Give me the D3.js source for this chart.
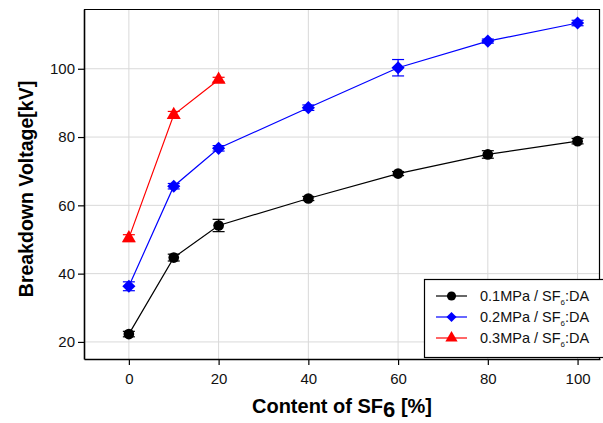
<!DOCTYPE html>
<html>
<head>
<meta charset="utf-8">
<script src="https://cdn.jsdelivr.net/npm/d3@7"></script>
<style>
  body { margin: 0; background: #fff; }
  text { font-family: Arial, "Liberation Sans", sans-serif; }
</style>
</head>
<body>
<svg id="chart" width="603" height="423"></svg>
<script>
const xTicks = [0, 20, 40, 60, 80, 100];
const yTicks = [20, 40, 60, 80, 100];

const content01 = [0, 10, 20, 40, 60, 80, 100];
const volt01 = [22.3, 44.7, 54.1, 62.0, 69.3, 74.9, 78.8];
const err01 = [0.8, 1.0, 1.8, 0.6, 0.6, 1.1, 0.8];

const content02 = [0, 10, 20, 40, 60, 80, 100];
const volt02 = [36.3, 65.6, 76.7, 88.6, 100.3, 108.1, 113.4];
const err02 = [1.3, 0.8, 0.8, 0.8, 2.4, 0.6, 0.8];

const content03 = [0, 10, 20];
const volt03 = [50.4, 86.5, 96.8];
const err03 = [1.0, 1.0, 0.7];

const seriesNames = ["0.1MPa / SF", "0.2MPa / SF", "0.3MPa / SF"];

const series = [
  { name: seriesNames[0], color: "#000000", symbol: d3.symbolCircle, size: 90, x: content01, y: volt01, e: err01 },
  { name: seriesNames[1], color: "#0000ff", symbol: d3.symbolDiamond2, size: 110, x: content02, y: volt02, e: err02 },
  { name: seriesNames[2], color: "#ff0000", symbol: d3.symbolTriangle, size: 85, x: content03, y: volt03, e: err03 }
];

const svg = d3.select("#chart");
const margin = { top: 9, right: 3, bottom: 64, left: 84 };
const width = 603 - margin.left - margin.right;
const height = 423 - margin.top - margin.bottom;

const x = d3.scaleLinear().domain([-10, 105]).range([0, width]);
const y = d3.scaleLinear().domain([15, 117.5]).range([height, 0]);

const g = svg.append("g").attr("transform", "translate(" + margin.left + "," + margin.top + ")");

// grid
g.append("g").selectAll("line").data(xTicks).join("line")
    .attr("x1", d => x(d)).attr("x2", d => x(d))
    .attr("y1", 0).attr("y2", height)
    .attr("stroke", "#d9d9d9").attr("stroke-width", 1);
g.append("g").selectAll("line").data(yTicks).join("line")
    .attr("x1", 0).attr("x2", width)
    .attr("y1", d => y(d)).attr("y2", d => y(d))
    .attr("stroke", "#d9d9d9").attr("stroke-width", 1);

// frame top/right
g.append("path")
    .attr("d", "M0,0.5H" + (width - 0.5) + "V" + height)
    .attr("fill", "none").attr("stroke", "#000").attr("stroke-width", 1.2);

// axes
const xAxis = g.append("g")
    .attr("transform", "translate(0," + height + ")")
    .call(d3.axisBottom(x).tickValues(xTicks).tickSize(6).tickPadding(8).tickSizeOuter(0));
const yAxis = g.append("g")
    .call(d3.axisLeft(y).tickValues(yTicks).tickSize(6).tickPadding(3).tickSizeOuter(0));
[xAxis, yAxis].forEach(a => {
  a.select(".domain").attr("stroke-width", 1.6);
  a.selectAll(".tick line").attr("stroke-width", 1.2);
  a.selectAll("text").attr("font-size", 15).attr("fill", "#111")
      .attr("font-family", "Arial, 'Liberation Sans', sans-serif");
});

// series
series.forEach(s => {
  const pts = s.x.map((v, i) => ({ x: v, y: s.y[i], e: s.e[i] }));
  const sg = g.append("g");
  sg.append("path").datum(pts)
      .attr("fill", "none").attr("stroke", s.color).attr("stroke-width", 1.2)
      .attr("d", d3.line().x(d => x(d.x)).y(d => y(d.y)));
  const eb = sg.selectAll(".eb").data(pts).join("g");
  eb.append("line")
      .attr("x1", d => x(d.x)).attr("x2", d => x(d.x))
      .attr("y1", d => y(d.y - d.e)).attr("y2", d => y(d.y + d.e))
      .attr("stroke", s.color).attr("stroke-width", 1.2);
  [-1, 1].forEach(sgn => {
    eb.append("line")
        .attr("x1", d => x(d.x) - 6).attr("x2", d => x(d.x) + 6)
        .attr("y1", d => y(d.y + sgn * d.e)).attr("y2", d => y(d.y + sgn * d.e))
        .attr("stroke", s.color).attr("stroke-width", 1.2);
  });
  sg.selectAll(".pt").data(pts).join("path")
      .attr("transform", d => "translate(" + x(d.x) + "," + y(d.y) + ")")
      .attr("d", d3.symbol().type(s.symbol).size(s.size))
      .attr("fill", s.color);
});

// axis titles
svg.append("text")
    .attr("transform", "translate(33," + (margin.top + height / 2 + 5) + ") rotate(-90)")
    .attr("text-anchor", "middle")
    .attr("font-size", 19.5).attr("font-weight", "bold")
    .text("Breakdown Voltage[kV]");

const xt = svg.append("text")
    .attr("x", 342).attr("y", 413)
    .attr("text-anchor", "middle")
    .attr("font-size", 20).attr("font-weight", "bold");
xt.append("tspan").text("Content of SF");
xt.append("tspan").attr("dy", 4).attr("font-size", 22).text("6");
xt.append("tspan").attr("dy", -4).text(" [%]");

// legend
const lg = svg.append("g").attr("transform", "translate(424,279)");
lg.append("rect")
    .attr("x", 0.5).attr("y", 0.5).attr("width", 180).attr("height", 78)
    .attr("fill", "#fff").attr("stroke", "#000").attr("stroke-width", 1.2);
series.forEach((s, i) => {
  const row = lg.append("g").attr("transform", "translate(0," + (17 + i * 21) + ")");
  row.append("line").attr("x1", 12).attr("x2", 43).attr("y1", 0).attr("y2", 0)
      .attr("stroke", s.color).attr("stroke-width", 1.2);
  row.append("path").attr("transform", "translate(27.5,0)")
      .attr("d", d3.symbol().type(s.symbol).size(65)).attr("fill", s.color);
  const t = row.append("text").attr("x", 56).attr("y", 5).attr("font-size", 14.5).attr("fill", "#111");
  t.append("tspan").text(s.name);
  t.append("tspan").attr("dy", 4).attr("font-size", 8).text("6");
  t.append("tspan").attr("dy", -4).text(":DA");
});
</script>
</body>
</html>
